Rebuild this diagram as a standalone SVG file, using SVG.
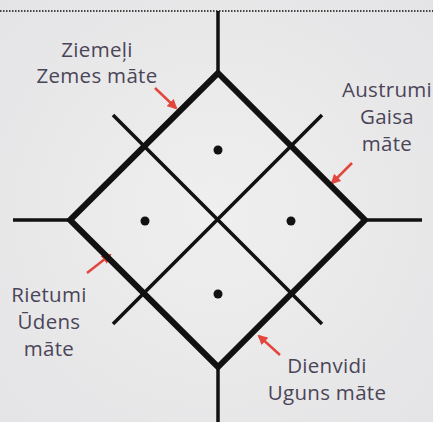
<svg xmlns="http://www.w3.org/2000/svg" width="433" height="422" viewBox="0 0 433 422">
<defs>
<style>
.t{font-family:"Open Sans","Noto Sans",sans-serif;font-size:20.5px;letter-spacing:0.3px;fill:#4b4558;text-anchor:middle}
.outer{fill:none;stroke:#111;stroke-width:6;stroke-linejoin:miter}
.in{stroke:#111;stroke-width:3.5;fill:none}
.arr{stroke:#e2463c;stroke-width:2.5;fill:none}
</style>
<marker id="ah" viewBox="0 0 10 10" refX="8" refY="5" markerWidth="4" markerHeight="4" orient="auto"><path d="M0,0L10,5L0,10z" fill="#e2463c"/></marker>
<radialGradient id="bg" cx="0.5" cy="0.5" r="0.7"><stop offset="0" stop-color="#efefef"/><stop offset="1" stop-color="#e4e4e6"/></radialGradient>
</defs>
<rect width="433" height="422" fill="url(#bg)"/>
<line x1="0" y1="11" x2="433" y2="11" stroke="#444" stroke-width="2" stroke-dasharray="1.5 1.5"/>
<g id="connectors">
<line class="in" x1="218" y1="11" x2="218" y2="73"/>
<line class="in" x1="218" y1="367" x2="218" y2="422"/>
<line class="in" x1="13" y1="220" x2="70" y2="220"/>
<line class="in" x1="365" y1="220" x2="422" y2="220"/>
<line class="in" x1="113" y1="115" x2="322" y2="324"/>
<line class="in" x1="322" y1="115" x2="113" y2="324"/>
<line class="arr" x1="155" y1="88" x2="176" y2="108" marker-end="url(#ah)"/>
<line class="arr" x1="352" y1="163" x2="332" y2="183" marker-end="url(#ah)"/>
<line class="arr" x1="87" y1="273" x2="110" y2="255" marker-end="url(#ah)"/>
<line class="arr" x1="280" y1="355" x2="259" y2="336" marker-end="url(#ah)"/>
</g>
<g id="diamond">
<path class="outer" d="M218,73L365,220L218,367L70,220Z"/>
</g>
<g id="dots" fill="#111">
<circle cx="218" cy="150" r="4.5"/>
<circle cx="145" cy="221" r="4.5"/>
<circle cx="291" cy="221" r="4.5"/>
<circle cx="218" cy="294" r="4.5"/>
</g>
<g id="north"><text class="t" x="97" y="57">Ziemeļi</text><text class="t" x="97" y="83">Zemes māte</text></g>
<g id="east"><text class="t" x="387" y="97">Austrumi</text><text class="t" x="387" y="124">Gaisa</text><text class="t" x="387" y="151">māte</text></g>
<g id="west"><text class="t" x="49" y="302">Rietumi</text><text class="t" x="49" y="329">Ūdens</text><text class="t" x="49" y="356">māte</text></g>
<g id="south"><text class="t" x="327" y="373">Dienvidi</text><text class="t" x="327" y="400">Uguns māte</text></g>
</svg>
